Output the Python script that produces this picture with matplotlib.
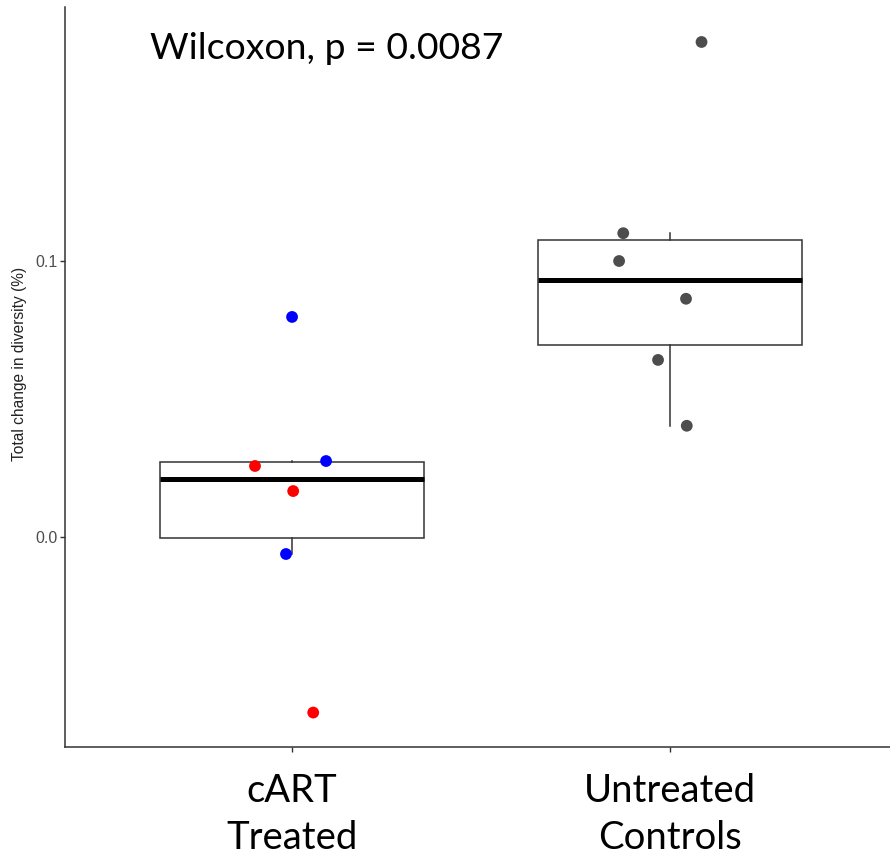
import matplotlib
matplotlib.use("Agg")
import matplotlib.pyplot as plt
import numpy as np

# Groups and tick labels
groups = ["cART\nTreated", "Untreated\nControls"]

# Total change in diversity (%) per subject
cart_values = [0.0797, 0.0256, 0.0274, 0.0165, -0.00635, -0.0639]
cart_colors = ["#0000FF", "#FF0000", "#0000FF", "#FF0000", "#0000FF", "#FF0000"]
cart_jitter = [0.0, -0.098, 0.09, 0.003, -0.016, 0.056]

untreated_values = [0.1795, 0.1101, 0.1000, 0.0863, 0.0641, 0.0402]
untreated_color = "#4D4D4D"
untreated_jitter = [0.083, -0.124, -0.135, 0.042, -0.032, 0.044]

y_ticks = [0.0, 0.1]
y_tick_labels = ["0.0", "0.1"]
stat_label = "Wilcoxon, p = 0.0087"

fig = plt.figure(figsize=(8.9, 8.57), dpi=100)
ax = fig.add_axes([65 / 890, 110 / 857, 1 - 65 / 890, (747 - 7) / 857])

line_col = "#333333"
ax.boxplot([cart_values, untreated_values], positions=[1, 2], widths=0.70,
           whis=1.5, showfliers=False, showcaps=False, patch_artist=True,
           boxprops=dict(facecolor="white", edgecolor=line_col, linewidth=1.1),
           whiskerprops=dict(color=line_col, linewidth=1.1),
           medianprops=dict(color="black", linewidth=3.6, solid_capstyle="butt"),
           zorder=2)

ax.scatter(1 + np.array(cart_jitter), cart_values, s=72, c=cart_colors,
           edgecolors="none", zorder=3)
ax.scatter(2 + np.array(untreated_jitter), untreated_values, s=72,
           c=untreated_color, edgecolors="none", zorder=3)

ax.set_xlim(0.3995, 2.5815)
ax.set_ylim(-0.0764, 0.1922)

ax.set_xticks([1, 2])
ax.set_xticklabels(groups, fontsize=27.5, family="Lato", color="black",
                   linespacing=1.4)
ax.set_yticks(y_ticks)
ax.set_yticklabels(y_tick_labels, fontsize=11.5, family="Liberation Sans",
                   color="#4D4D4D")
ax.tick_params(axis="x", length=3.6, width=1, color=line_col, pad=15)
ax.tick_params(axis="y", length=3.6, width=1, color=line_col, pad=2)

for side in ("top", "right"):
    ax.spines[side].set_visible(False)
for side in ("left", "bottom"):
    ax.spines[side].set_color(line_col)
    ax.spines[side].set_linewidth(1.1)

fig.text(20 / 890, 1 - 364 / 857, "Total change in diversity (%)",
         rotation=90, ha="center", va="center", fontsize=11.2,
         family="Liberation Sans", color="#222222")

fig.text(150 / 890, 1 - 59 / 857, stat_label, ha="left", va="baseline",
         fontsize=26.9, family="Lato", color="black")

fig.savefig("out.png", dpi=100)
